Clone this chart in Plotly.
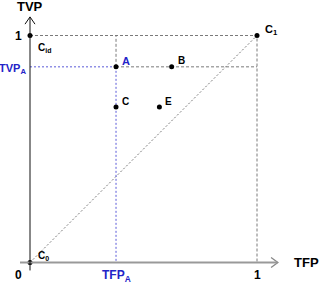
import plotly.graph_objects as go

# data
point_names = ["A", "B", "C", "E"]
tfp = [0.379, 0.624, 0.379, 0.570]
tvp = [0.862, 0.862, 0.685, 0.685]
corner_names = ["C<sub>0</sub>", "C<sub>id</sub>", "C<sub>1</sub>"]
corner_tfp = [0.0, 0.0, 1.0]
corner_tvp = [0.0, 1.0, 1.0]

BLUE = "#2323c8"
BLUE_L = "#5a5ad8"
GRAY = "#7a7a7a"
FONT = "Liberation Sans, Arial, sans-serif"

xa, ya = tfp[0], tvp[0]

fig = go.Figure()

# diagonal C0 -> C1
fig.add_trace(go.Scatter(x=[corner_tfp[0], corner_tfp[2]], y=[corner_tvp[0], corner_tvp[2]],
                         mode="lines", line=dict(color=GRAY, width=1, dash="2px,2px"),
                         hoverinfo="skip"))
# top horizontal y=1 and right vertical x=1
fig.add_trace(go.Scatter(x=[0, 1, 1], y=[1, 1, 0], mode="lines",
                         line=dict(color=GRAY, width=1, dash="3px,2px"), hoverinfo="skip"))
# gray parts of A guides
fig.add_trace(go.Scatter(x=[xa, 1, None, xa, xa], y=[ya, ya, None, ya, 1], mode="lines",
                         line=dict(color=GRAY, width=1, dash="3px,2px"), hoverinfo="skip"))
# blue parts of A guides
fig.add_trace(go.Scatter(x=[0, xa, None, xa, xa], y=[ya, ya, None, ya, 0], mode="lines",
                         line=dict(color=BLUE_L, width=1, dash="2px,2px"), hoverinfo="skip"))

# axes lines
fig.add_shape(type="line", x0=-0.044, y0=0, x1=1.09, y1=0, line=dict(color="#999999", width=2))
fig.add_shape(type="line", x0=0, y0=-0.035, x1=0, y1=1.08, line=dict(color="#111111", width=1))
# arrow chevrons
fig.add_trace(go.Scatter(x=[1.062, 1.092, 1.062], y=[0.022, 0, -0.022], mode="lines",
                         line=dict(color="#888888", width=1.3), hoverinfo="skip"))
fig.add_trace(go.Scatter(x=[-0.022, 0, 0.022], y=[1.05, 1.082, 1.05], mode="lines",
                         line=dict(color="#111111", width=1), hoverinfo="skip"))

# points
fig.add_trace(go.Scatter(x=tfp + corner_tfp, y=tvp + corner_tvp, mode="markers",
                         marker=dict(color="black", size=5), hoverinfo="skip"))

ann = []
def t(x, y, s, size=10, color="black", xa_="left", ya_="middle", dx=0, dy=0):
    ann.append(dict(x=x, y=y, text="<b>" + s + "</b>", showarrow=False, xanchor=xa_, yanchor=ya_,
                    xshift=dx, yshift=dy, font=dict(family=FONT, size=size, color=color)))

for name, x, y in zip(point_names, tfp, tvp):
    t(x, y, name, size=11 if name == "A" else 10, color=BLUE if name == "A" else "black", dx=4, dy=6)
t(0, 0, corner_names[0], dx=6, dy=7)
t(0, 1, corner_names[1], dx=6, dy=-12)
t(1, 1, corner_names[2], size=11, dx=6, dy=6)

t(0, 1, "1", size=12, xa_="right", dx=-6, dy=0)
t(0, ya, "TVP<sub>A</sub>", size=11, color=BLUE, xa_="right", dx=-2, dy=-2)
t(0, 0, "0", size=12, xa_="right", ya_="top", dx=-6, dy=-3)
t(xa, 0, "TFP<sub>A</sub>", size=12, color=BLUE, xa_="center", ya_="top", dx=0, dy=-3)
t(1, 0, "1", size=12, xa_="center", ya_="top", dx=0, dy=-3)
t(1.09, 0, "TFP", size=13, xa_="left", dx=15, dy=0)
t(0, 1.08, "TVP", size=13, xa_="center", ya_="bottom", dx=0, dy=1)

fig.update_layout(
    width=321, height=284, margin=dict(l=0, r=0, t=0, b=0),
    paper_bgcolor="white", plot_bgcolor="white", showlegend=False,
    xaxis=dict(range=[-30/227, 291/227], visible=False, fixedrange=True),
    yaxis=dict(range=[-21.5/227, 262.5/227], visible=False, fixedrange=True),
    annotations=ann,
)
fig.write_html("out.html")
